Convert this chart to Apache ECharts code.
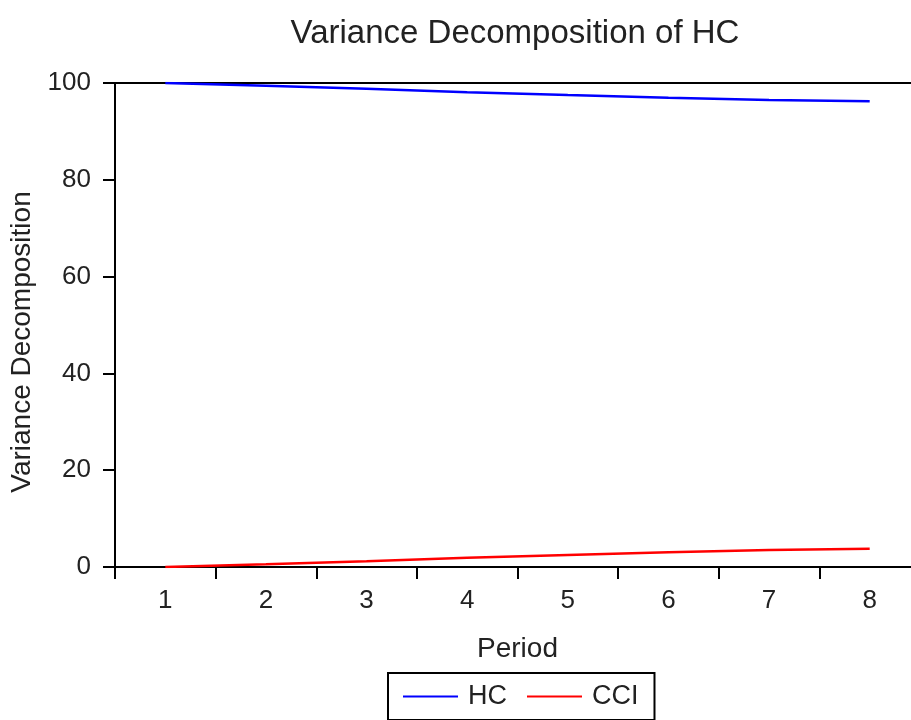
<!DOCTYPE html>
<html>
<head>
<meta charset="utf-8">
<script src="https://cdn.jsdelivr.net/npm/echarts@6/dist/echarts.min.js"></script>
<style>
  html, body { margin: 0; padding: 0; background: #fff; }
  #chart { width: 911px; height: 720px; }
</style>
</head>
<body>
<div id="chart"></div>
<script>
const FONT = "'Liberation Sans', Arial, sans-serif";
const TEXT = "#222";

const periods = ["1", "2", "3", "4", "5", "6", "7", "8"];
const hc = [100, 99.45, 98.8, 98.1, 97.5, 96.95, 96.5, 96.25];
const cci = [0, 0.55, 1.2, 1.9, 2.5, 3.05, 3.5, 3.75];

const chart = echarts.init(document.getElementById("chart"), null, { renderer: "canvas" });

const axisLine = { show: true, lineStyle: { color: "#000", width: 2 } };

chart.setOption({
  animation: false,
  title: {
    text: "Variance Decomposition of HC",
    left: 510,
    top: 12,
    textAlign: "center",
    textStyle: { fontFamily: FONT, fontSize: 33, fontWeight: "normal", color: TEXT },
  },
  // the plot frame runs past the right edge of the picture in the original
  grid: { left: 115, top: 83, width: 805, height: 484, outerBoundsMode: "none" },
  legend: {
    left: 388, top: 673,
    icon: "rect", itemWidth: 55, itemHeight: 2, itemGap: 20,
    padding: [10, 16, 10, 15],
    borderColor: "#000", borderWidth: 2,
    textStyle: { fontFamily: FONT, fontSize: 27, color: TEXT, padding: [0, 0, 0, 5] },
    data: ["HC", "CCI"],
  },
  xAxis: [
    {
      type: "category",
      data: periods,
      name: "Period",
      nameLocation: "middle",
      nameGap: 68,
      nameTextStyle: { fontFamily: FONT, fontSize: 28, color: TEXT },
      axisLine,
      axisTick: { show: true, length: 12, lineStyle: { color: "#000", width: 2 } },
      axisLabel: { fontFamily: FONT, fontSize: 26, color: TEXT, margin: 21 },
      splitLine: { show: false },
    },
    {
      // top frame line only
      type: "category",
      data: periods,
      position: "top",
      axisLine,
      axisTick: { show: false },
      axisLabel: { show: false },
      splitLine: { show: false },
    },
  ],
  yAxis: {
    type: "value",
    min: 0, max: 100, interval: 20,
    name: "Variance Decomposition",
    nameLocation: "middle",
    nameGap: 74,
    nameTextStyle: { fontFamily: FONT, fontSize: 28, color: TEXT, padding: [0, 34, 0, 0] },
    axisLine,
    axisTick: { show: true, length: 12, lineStyle: { color: "#000", width: 2 } },
    axisLabel: { fontFamily: FONT, fontSize: 26, color: TEXT, margin: 24 },
    splitLine: { show: false },
  },
  series: [
    {
      name: "HC", type: "line", data: hc,
      symbol: "none", color: "#0000ff",
      lineStyle: { color: "#0000ff", width: 2.5 },
    },
    {
      name: "CCI", type: "line", data: cci,
      symbol: "none", color: "#ff0000",
      lineStyle: { color: "#ff0000", width: 2.5 },
    },
  ],
});
</script>
</body>
</html>
